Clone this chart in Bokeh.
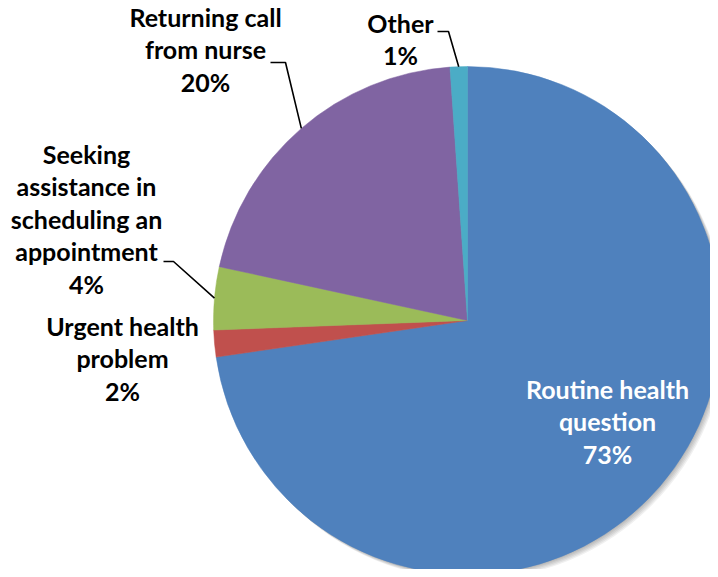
import numpy as np
from bokeh.plotting import figure
from bokeh.models import Range1d, ColumnDataSource
from bokeh.core.properties import value
from bokeh.embed import file_html
from bokeh.resources import INLINE

# ---------------- data ----------------
categories = ["Routine health question", "Urgent health problem",
              "Seeking assistance in scheduling an appointment",
              "Returning call from nurse", "Other"]
shares = [72.7, 1.7, 4.0, 20.5, 1.1]
pct_labels = ["73%", "2%", "4%", "20%", "1%"]
label_lines = [["Routine health", "question"],
               ["Urgent health", "problem"],
               ["Seeking", "assistance in", "scheduling an", "appointment"],
               ["Returning call", "from nurse"],
               ["Other"]]
colors = ["#4F81BD", "#C0504D", "#9BBB59", "#8064A2", "#4BACC6"]

# ---------------- layout (picture pixel coordinates) ----------------
W, H = 710, 569
CX, CY = 467, 320
R = 254
FONT_SIZE = "25px"
LINE_STEP = 32.5
label_anchor = [(607, 388), (122, 325), (86, 153), (205, 16), (400, 22)]
label_color = ["white", "black", "black", "black", "black"]
leader_elbows = {2: [(163, 261), (173, 261)],
                 3: [(270, 62), (285, 62)],
                 4: [(437, 31), (448, 31)]}


def ty(y_img):
    return H - y_img


p = figure(width=W, height=H, output_backend="svg", toolbar_location=None,
           x_range=Range1d(0, W), y_range=Range1d(0, H),
           min_border=0, outline_line_color=None)
p.axis.visible = False
p.grid.visible = False
p.background_fill_color = "white"
p.border_fill_color = "white"

# soft shadow
for off in (1, 2, 3, 4, 5):
    p.circle(x=[CX + off], y=[ty(CY) - off], radius=R,
             fill_color="black", fill_alpha=0.06, line_color=None)

# wedges
vals = np.array(shares, dtype=float)
frac = vals / vals.sum() * 360.0
cum_after = np.cumsum(frac)
cum_before = cum_after - frac
start = np.deg2rad(90.0 - cum_after)
end = np.deg2rad(90.0 - cum_before)
src = ColumnDataSource(dict(x=[CX] * len(vals), y=[ty(CY)] * len(vals),
                            start=start, end=end, color=colors, cat=categories))
p.wedge(x="x", y="y", radius=R, start_angle="start", end_angle="end",
        direction="anticlock", fill_color="color", line_color="color",
        line_width=0.5, source=src)

# leader lines
mid = (cum_before + cum_after) / 2.0
for i, pts in leader_elbows.items():
    th = np.deg2rad(mid[i])
    rx = CX + R * np.sin(th)
    ry = CY - R * np.cos(th)
    xs = [pt[0] for pt in pts] + [rx]
    ys = [ty(pt[1]) for pt in pts] + [ty(ry)]
    p.line(xs, ys, line_color="black", line_width=1.6)

# labels
for i, lines in enumerate(label_lines):
    all_lines = lines + [pct_labels[i]]
    ax, ay = label_anchor[i]
    xs = [ax] * len(all_lines)
    ys = [ty(ay + k * LINE_STEP) for k in range(len(all_lines))]
    p.text(x=xs, y=ys, text=all_lines, text_font=value("Lato"),
           text_font_style="bold", text_font_size=FONT_SIZE,
           text_align="center", text_baseline="alphabetic",
           text_color=label_color[i])

open("out.html", "w").write(file_html(p, INLINE))
